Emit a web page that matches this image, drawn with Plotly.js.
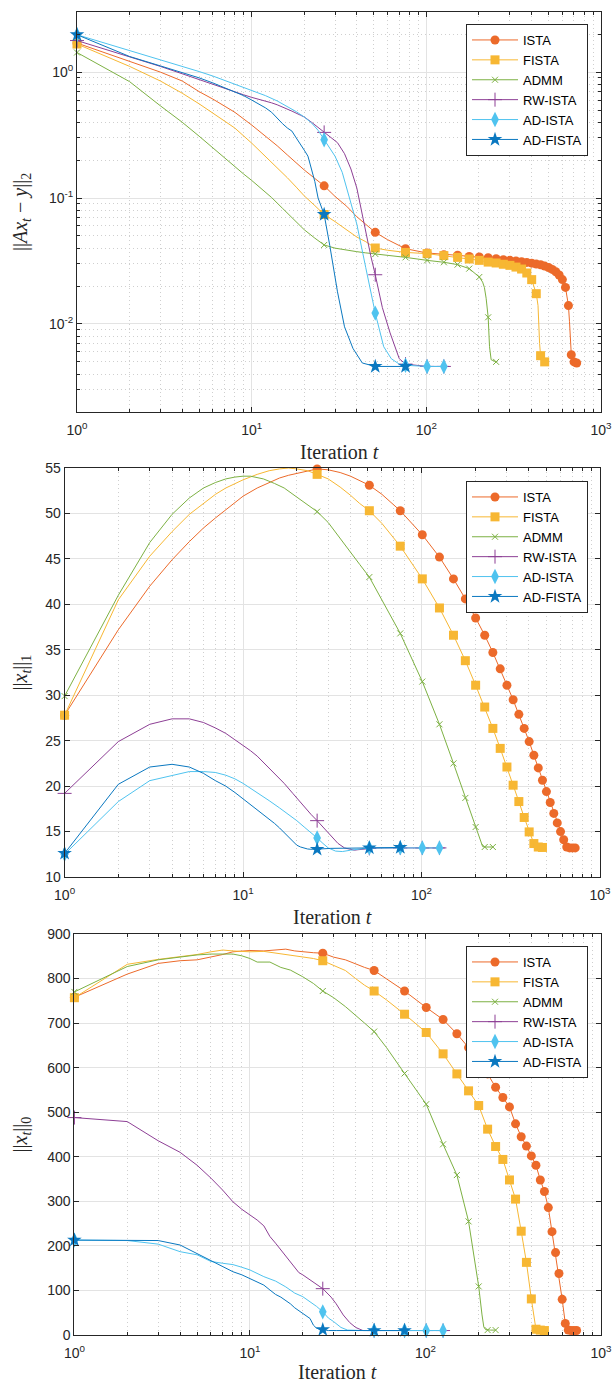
<!DOCTYPE html>
<html><head><meta charset="utf-8">
<script src="https://cdn.plot.ly/plotly-3.0.1.min.js"></script>
<style>html,body{margin:0;padding:0;background:#fff}#chart{width:614px;height:1383px}</style>
</head><body><div id="chart"></div>
<script>
// ---------------- data ----------------
const methodNames = ['ISTA', 'FISTA', 'ADMM', 'RW-ISTA', 'AD-ISTA', 'AD-FISTA'];
const xTickVals = [1, 10, 100, 1000];
const xTickText = ['10<sup>0</sup>', '10<sup>1</sup>', '10<sup>2</sup>', '10<sup>3</sup>'];
const xMinorVals = [2,3,4,5,6,7,8,9,20,30,40,50,60,70,80,90,200,300,400,500,600,700,800,900];
const resTickVals = [0.01, 0.1, 1];
const resTickText = ['10<sup>-2</sup>', '10<sup>-1</sup>', '10<sup>0</sup>'];
const resMinorVals = [0.003,0.004,0.005,0.006,0.007,0.008,0.009,0.02,0.03,0.04,0.05,0.06,0.07,0.08,0.09,0.2,0.3,0.4,0.5,0.6,0.7,0.8,0.9,2,3];
const xTitle = 'Iteration <i>t</i>';
const yTitles = ['||<i>Ax</i><sub><i>t</i></sub> \u2212 <i>y</i>||<sub>2</sub>', '||<i>x</i><sub><i>t</i></sub>||<sub>1</sub>', '||<i>x</i><sub><i>t</i></sub>||<sub>0</sub>'];
const markerEvery = 25;

// ISTA
const istaT = [1,2,3,4,5,6,7,8,10,12,14,16,18,20,23,26,30,35,40,45,51,60,76,101,126,151,176,201,226,251,276,301,326,351,376,401,426,451,476,501,526,551,576,601,626,651,660,670,676,701,726];
const istaRes = [1.70,1.22,1.00,0.85,0.70,0.61,0.54,0.48,0.38,0.31,0.26,0.22,0.19,0.167,0.143,0.125,0.103,0.086,0.071,0.062,0.0534,0.0467,0.0396,0.0366,0.0355,0.0351,0.0344,0.034,0.0336,0.033,0.0324,0.032,0.0316,0.0312,0.0308,0.0304,0.0299,0.0295,0.0288,0.0281,0.0271,0.026,0.0245,0.0225,0.0195,0.014,0.0105,0.0063,0.0057,0.0050,0.0049];
const istaL1 = [27.8,37.2,42.0,44.9,46.9,48.4,49.5,50.4,51.9,52.8,53.4,53.9,54.2,54.4,54.7,54.9,54.8,54.5,54.1,53.6,53.1,52.1,50.3,47.65,45.2,42.8,40.6,38.5,36.6,34.7,32.9,31.1,29.5,27.9,26.35,24.9,23.4,22.0,20.65,19.4,18.2,17.0,15.95,15.0,14.1,13.3,13.25,13.2,13.2,13.2,13.2];
const istaL0 = [758,810,834,840,842,848,854,860,863,862,865,866,862,860,858,857,848,842,832,825,818,800,772,735,708,676,645,614,586,556,533,512,474,445,424,402,381,348,322,286,232,185,138,80,26,11,10,10,10,10,10];

// FISTA
const fistaT = [1,2,3,4,5,6,7,8,10,12,14,16,18,20,23,26,30,35,40,45,51,60,76,101,126,151,176,201,226,251,276,301,326,351,376,401,426,436,445,451,476];
const fistaRes = [1.67,1.11,0.85,0.68,0.56,0.47,0.41,0.36,0.273,0.215,0.175,0.145,0.122,0.104,0.087,0.074,0.065,0.056,0.049,0.045,0.0401,0.0385,0.0370,0.0362,0.0349,0.0338,0.0328,0.0320,0.0310,0.0305,0.0298,0.0292,0.0283,0.0273,0.0254,0.0225,0.0174,0.0140,0.0070,0.0056,0.0050];
const fistaL1 = [27.8,40.5,45.3,48.0,49.9,51.1,52.1,52.8,53.7,54.3,54.7,54.9,55.0,54.9,54.7,54.3,53.8,52.9,52.0,51.1,50.3,48.9,46.4,42.8,39.6,36.6,33.8,31.1,28.7,26.35,24.15,22.1,20.1,18.3,16.55,14.96,13.68,13.4,13.3,13.3,13.25];
const fistaL0 = [757,832,843,849,854,860,864,862,860,861,857,855,852,849,845,840,830,818,800,785,772,752,720,679,631,586,548,515,462,423,394,348,305,233,163,81,13,12,11,11,10];

// ADMM
const admmT = [1,2,3,4,5,6,7,8,9,10,11,13,15,17,20,23,26,30,35,40,45,51,60,76,101,126,151,176,201,210,215,220,226,230,235,251];
const admmRes = [1.43,0.84,0.54,0.40,0.31,0.25,0.205,0.175,0.155,0.138,0.123,0.101,0.083,0.07,0.056,0.048,0.0424,0.040,0.0385,0.0375,0.0367,0.036,0.0352,0.0338,0.032,0.0309,0.0296,0.0275,0.0236,0.0215,0.0195,0.016,0.0113,0.0066,0.0052,0.0050];
const admmL1 = [29.9,41.0,46.8,49.9,51.7,52.8,53.4,53.8,54.0,54.1,54.1,53.8,53.3,52.8,51.8,51.0,50.2,49.0,47.3,45.8,44.4,43.0,40.5,36.8,31.5,26.8,22.5,18.7,15.5,14.4,13.8,13.35,13.3,13.3,13.3,13.3];
const admmL0 = [770,827,842,848,853,855,855,855,851,845,837,837,825,819,804,789,772,757,737,718,700,681,645,587,518,428,359,255,109,45,18,12,11,11,11,11];

// RW-ISTA
const rwT = [1,2,3,4,5,6,7,8,9,10,11,12,13,14,15,17,19,20,22,24,26,29,31,34,37,40,42,44,46,48,51,56,62,70,76,101,126,135];
const rwRes = [1.78,1.33,1.11,0.97,0.87,0.80,0.74,0.69,0.66,0.63,0.61,0.59,0.57,0.55,0.53,0.49,0.455,0.44,0.40,0.365,0.332,0.30,0.275,0.225,0.17,0.12,0.086,0.062,0.046,0.035,0.0246,0.0135,0.0085,0.0053,0.0048,0.0046,0.0046,0.0046];
const rwL1 = [19.2,24.9,26.8,27.4,27.4,27.0,26.4,25.8,25.1,24.5,23.9,23.3,22.6,22.0,21.4,20.3,19.2,18.7,17.7,16.9,16.2,15.2,14.6,13.7,13.2,13.0,12.95,13.0,13.05,13.1,13.15,13.2,13.2,13.2,13.2,13.2,13.2,13.2];
const rwL0 = [488,479,436,410,381,352,325,299,282,269,258,245,221,206,191,165,140,135,124,114,104,85,70,45,28,17,13,10,10,10,10,10,10,10,10,10,10,10];

// AD-ISTA
const adiT = [1,2,3,4,5,6,7,8,9,10,12,14,16,18,20,22,24,26,28,30,33,36,40,45,51,57,63,70,76,101,126];
const adiRes = [1.98,1.48,1.25,1.12,1.01,0.93,0.86,0.80,0.76,0.72,0.65,0.59,0.535,0.485,0.44,0.395,0.345,0.29,0.25,0.215,0.16,0.105,0.062,0.028,0.0122,0.0066,0.0053,0.0048,0.0047,0.0046,0.0046];
const adiL1 = [12.5,18.3,20.6,21.2,21.6,21.6,21.5,21.2,20.8,20.3,19.3,18.4,17.6,16.9,16.2,15.5,14.9,14.3,13.7,13.2,12.85,12.8,12.95,13.1,13.2,13.2,13.2,13.2,13.2,13.2,13.2];
const adiL0 = [213,212,204,187,180,165,161,158,152,146,131,121,108,94,86,75,64,52,38,30,17,11,10,10,10,10,10,10,10,10,10];

// AD-FISTA
const adfT = [1,2,3,4,5,6,7,8,9,10,12,13,14,15,16,17,18,19,20,21,22,23,24,26,28,31,34,38,43,51,76];
const adfRes = [1.98,1.33,1.12,0.99,0.90,0.82,0.75,0.69,0.65,0.60,0.52,0.48,0.43,0.39,0.36,0.34,0.30,0.27,0.24,0.215,0.17,0.135,0.10,0.074,0.042,0.018,0.0095,0.0064,0.0049,0.0046,0.0046];
const adfL1 = [12.6,20.2,22.1,22.4,22.1,21.4,20.6,20.0,19.3,18.6,17.4,16.9,16.4,15.9,15.4,14.9,14.4,13.9,13.5,13.3,13.15,13.08,13.05,13.05,13.1,13.15,13.15,13.2,13.2,13.2,13.25];
const adfL0 = [213,212,212,202,183,168,153,142,135,127,112,101,91,85,78,70,61,55,49,43,37,22,15,12,10,10,10,10,10,10,10];

// ---------------- styles ----------------
const seriesDefs = [
  {t: istaT,  v: [istaRes, istaL1, istaL0],  color: '#EC6A2A', symbol: 'circle',          size: 9,  lw: 0},
  {t: fistaT, v: [fistaRes, fistaL1, fistaL0], color: '#F7B733', symbol: 'square',        size: 9,  lw: 0},
  {t: admmT,  v: [admmRes, admmL1, admmL0],  color: '#7DB143', symbol: 'x-thin-open',     size: 6,  lw: 1},
  {t: rwT,    v: [rwRes, rwL1, rwL0],        color: '#8D3F95', symbol: 'cross-thin-open', size: 10, lw: 1},
  {t: adiT,   v: [adiRes, adiL1, adiL0],     color: '#4FC3EF', symbol: 'diamond-tall',    size: 11, lw: 0},
  {t: adfT,   v: [adfRes, adfL1, adfL0],     color: '#0A78C0', symbol: 'star',            size: 11, lw: 0}
];

const W = 614, H = 1383;
const boxes = [
  {l: 77,   r: 601, top: 12,  bot: 412},
  {l: 64.6, r: 600, top: 468, bot: 877},
  {l: 74.4, r: 601, top: 934, bot: 1335}
];
const legendTops = [24, 481, 946];
const xTitleY = [452, 917, 1372];

const axisColor = '#262626';
const traces = [];
for (let k = 0; k < 3; k++) {
  const xa = k === 0 ? 'x' : 'x' + (k + 1);
  const ya = k === 0 ? 'y' : 'y' + (k + 1);
  const lg = k === 0 ? 'legend' : 'legend' + (k + 1);
  seriesDefs.forEach((s, i) => {
    const vals = s.v[k];
    const mx = [], my = [];
    s.t.forEach((t, j) => { if ((t - 1) % markerEvery === 0) { mx.push(t); my.push(vals[j]); } });
    const mk = {symbol: s.symbol, size: s.size, color: s.color, line: {color: s.color, width: s.lw}};
    traces.push({x: s.t, y: vals, xaxis: xa, yaxis: ya, mode: 'lines', line: {color: s.color, width: 1},
                 showlegend: false, hoverinfo: 'skip'});
    traces.push({x: mx, y: my, xaxis: xa, yaxis: ya, mode: 'markers', marker: mk, cliponaxis: false,
                 showlegend: false, hoverinfo: 'skip'});
    traces.push({x: [null], y: [null], xaxis: xa, yaxis: ya, mode: 'lines+markers', name: methodNames[i],
                 line: {color: s.color, width: 1}, marker: mk, legend: lg, showlegend: true});
  });
}

function commonAxis() {
  return {
    showline: true, linecolor: axisColor, linewidth: 1, mirror: 'ticks',
    ticks: 'inside', ticklen: 5, tickwidth: 1, tickcolor: axisColor,
    showgrid: true, gridcolor: '#e3e3e3', gridwidth: 1, zeroline: false,
    tickfont: {family: 'Liberation Sans, Arial, sans-serif', size: 14, color: axisColor},
    fixedrange: true
  };
}
function xAxis(k) {
  const b = boxes[k];
  return Object.assign(commonAxis(), {
    type: 'log', range: [0, 3], domain: [b.l / W, b.r / W],
    anchor: k === 0 ? 'y' : 'y' + (k + 1), ticklabelstandoff: 5,
    tickmode: 'array', tickvals: xTickVals, ticktext: xTickText,
    minor: {tickmode: 'array', tickvals: xMinorVals, ticks: 'inside', ticklen: 3, tickcolor: axisColor,
            showgrid: true, gridcolor: '#cfcfcf', griddash: '1px,3px', gridwidth: 1}
  });
}
function yDomain(k) { const b = boxes[k]; return [1 - b.bot / H, 1 - b.top / H]; }

const y1 = Object.assign(commonAxis(), {
  type: 'log', range: [Math.log10(0.002), Math.log10(3)], domain: yDomain(0), anchor: 'x',
  tickmode: 'array', tickvals: resTickVals, ticktext: resTickText,
  minor: {tickmode: 'array', tickvals: resMinorVals, ticks: 'inside', ticklen: 3, tickcolor: axisColor,
          showgrid: true, gridcolor: '#cfcfcf', griddash: '1px,3px', gridwidth: 1}
});
const y2 = Object.assign(commonAxis(), {range: [10, 55], dtick: 5, tick0: 10, domain: yDomain(1), anchor: 'x2'});
const y3 = Object.assign(commonAxis(), {range: [0, 900], dtick: 100, tick0: 0, domain: yDomain(2), anchor: 'x3'});

function legendAt(k) {
  return {x: 588 / W, xanchor: 'right', y: 1 - legendTops[k] / H, yanchor: 'top',
          bgcolor: '#ffffff', bordercolor: axisColor, borderwidth: 1,
          font: {family: 'Liberation Sans, Arial, sans-serif', size: 13, color: '#000'},
          itemwidth: 46, traceorder: 'normal', itemclick: false, itemdoubleclick: false};
}

const annotations = [];
const titleFont = {family: 'Liberation Serif, Times New Roman, serif', size: 20, color: axisColor};
for (let k = 0; k < 3; k++) {
  const b = boxes[k];
  annotations.push({text: xTitle, xref: 'paper', yref: 'paper', x: (b.l + b.r) / 2 / W, y: 1 - xTitleY[k] / H,
                    xanchor: 'center', yanchor: 'middle', showarrow: false, font: titleFont});
  annotations.push({text: yTitles[k], xref: 'paper', yref: 'paper', x: 21 / W, y: 1 - (b.top + b.bot) / 2 / H,
                    xanchor: 'center', yanchor: 'middle', textangle: -90, showarrow: false, font: titleFont});
}

const layout = {
  width: W, height: H, margin: {l: 0, r: 0, t: 0, b: 0},
  paper_bgcolor: '#ffffff', plot_bgcolor: '#ffffff',
  font: {family: 'Liberation Sans, Arial, sans-serif', size: 14, color: axisColor},
  showlegend: true, hovermode: false,
  xaxis: xAxis(0), xaxis2: xAxis(1), xaxis3: xAxis(2),
  yaxis: y1, yaxis2: y2, yaxis3: y3,
  legend: legendAt(0), legend2: legendAt(1), legend3: legendAt(2),
  annotations: annotations
};

Plotly.newPlot('chart', traces, layout, {displayModeBar: false, staticPlot: true});
</script>
</body></html>
